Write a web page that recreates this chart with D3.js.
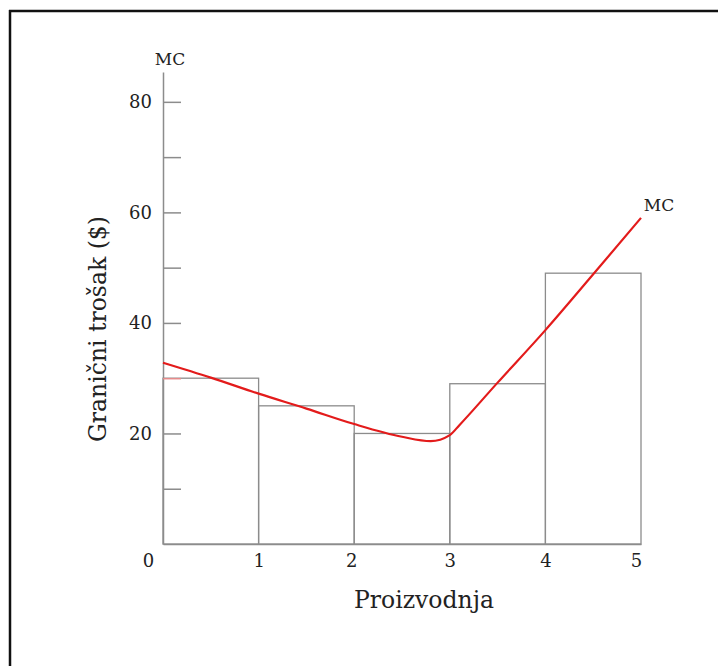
<!DOCTYPE html>
<html>
<head>
<meta charset="utf-8">
<script src="https://cdn.jsdelivr.net/npm/d3@7"></script>
<style>
  body { margin: 0; background: #fff; }
  text { font-family: "DejaVu Serif", serif; fill: #222; }
</style>
</head>
<body>
<div id="chart"></div>
<script>
// quantities on the x axis and the step bars (marginal cost of each unit)
var units = [1, 2, 3, 4, 5];
var barCost = [30, 25, 20, 29, 49];

// smooth MC curve
var curveQ = [0, 0.5, 1, 1.5, 2, 2.5, 2.8, 3, 3.1, 3.5, 4, 4.5, 5];
var curveMC = [32.8, 30.1, 27.2, 24.5, 21.7, 19.4, 18.6, 19.7, 21.5, 29.2, 38.7, 48.8, 59];

var xTicks = [0, 1, 2, 3, 4, 5];
var yTicks = [10, 20, 30, 40, 50, 60, 70, 80];
var yLabels = [20, 40, 60, 80];

var width = 718, height = 666;

var svg = d3.select("#chart").append("svg")
    .attr("width", width)
    .attr("height", height);

// frame (only top and left edges are visible)
svg.append("line").attr("x1", 9).attr("x2", width).attr("y1", 11).attr("y2", 11)
    .attr("stroke", "#111").attr("stroke-width", 2.5);
svg.append("line").attr("x1", 10).attr("x2", 10).attr("y1", 10).attr("y2", height)
    .attr("stroke", "#111").attr("stroke-width", 2.5);

var x = d3.scaleLinear().domain([0, 5]).range([163, 641]);
var y = d3.scaleLinear().domain([0, 85.4]).range([544, 72]);

var axisColor = "#8c8c8c";

// bars
svg.append("g").selectAll("rect")
  .data(units)
  .enter().append("rect")
    .attr("x", function(d) { return x(d - 1); })
    .attr("y", function(d, i) { return y(barCost[i]); })
    .attr("width", function(d) { return x(d) - x(d - 1); })
    .attr("height", function(d, i) { return y(0) - y(barCost[i]); })
    .attr("fill", "none")
    .attr("stroke", axisColor)
    .attr("stroke-width", 1.3);

// y axis
var gy = svg.append("g")
    .attr("transform", "translate(" + x(0) + ",0)")
    .call(d3.axisLeft(y)
      .tickValues(yTicks)
      .tickSizeInner(-18)
      .tickSizeOuter(0)
      .tickPadding(11)
      .tickFormat(function(d) { return yLabels.indexOf(d) >= 0 ? d : ""; }));
gy.select(".domain").attr("stroke", axisColor).attr("stroke-width", 1.5);
gy.selectAll(".tick line")
    .attr("stroke", function(d) { return d === 30 ? "#e58a8a" : axisColor; })
    .attr("stroke-width", 1.5);
gy.selectAll(".tick text")
    .attr("font-family", "DejaVu Serif, serif")
    .attr("font-size", 18)
    .attr("fill", "#222");

// x axis
var gx = svg.append("g")
    .attr("transform", "translate(0," + y(0) + ")")
    .call(d3.axisBottom(x)
      .tickValues(xTicks)
      .tickSize(0)
      .tickSizeOuter(0)
      .tickPadding(10)
      .tickFormat(d3.format("d")));
gx.select(".domain").attr("stroke", axisColor).attr("stroke-width", 1.5);
gx.selectAll(".tick text")
    .attr("font-family", "DejaVu Serif, serif")
    .attr("font-size", 18)
    .attr("fill", "#222")
    .attr("dx", function(d) { return d === 0 ? -15 : (d === 2 ? -3 : (d === 5 ? -5 : 0)); });

// MC curve
var line = d3.line()
    .x(function(d, i) { return x(curveQ[i]); })
    .y(function(d) { return y(d); })
    .curve(d3.curveMonotoneX);

svg.append("path")
    .datum(curveMC)
    .attr("d", line)
    .attr("fill", "none")
    .attr("stroke", "#e31b1b")
    .attr("stroke-width", 2.2);

// labels
svg.append("text")
    .attr("x", x(0) + 7)
    .attr("y", 65)
    .attr("text-anchor", "middle")
    .attr("font-size", 17)
    .text("MC");

svg.append("text")
    .attr("x", x(5) + 18)
    .attr("y", y(59) - 7)
    .attr("text-anchor", "middle")
    .attr("font-size", 17)
    .text("MC");

svg.append("text")
    .attr("x", 424)
    .attr("y", 608)
    .attr("text-anchor", "middle")
    .attr("font-size", 23.5)
    .text("Proizvodnja");

svg.append("text")
    .attr("transform", "translate(106,329) rotate(-90)")
    .attr("text-anchor", "middle")
    .attr("font-size", 23.5)
    .text("Granični trošak ($)");
</script>
</body>
</html>
